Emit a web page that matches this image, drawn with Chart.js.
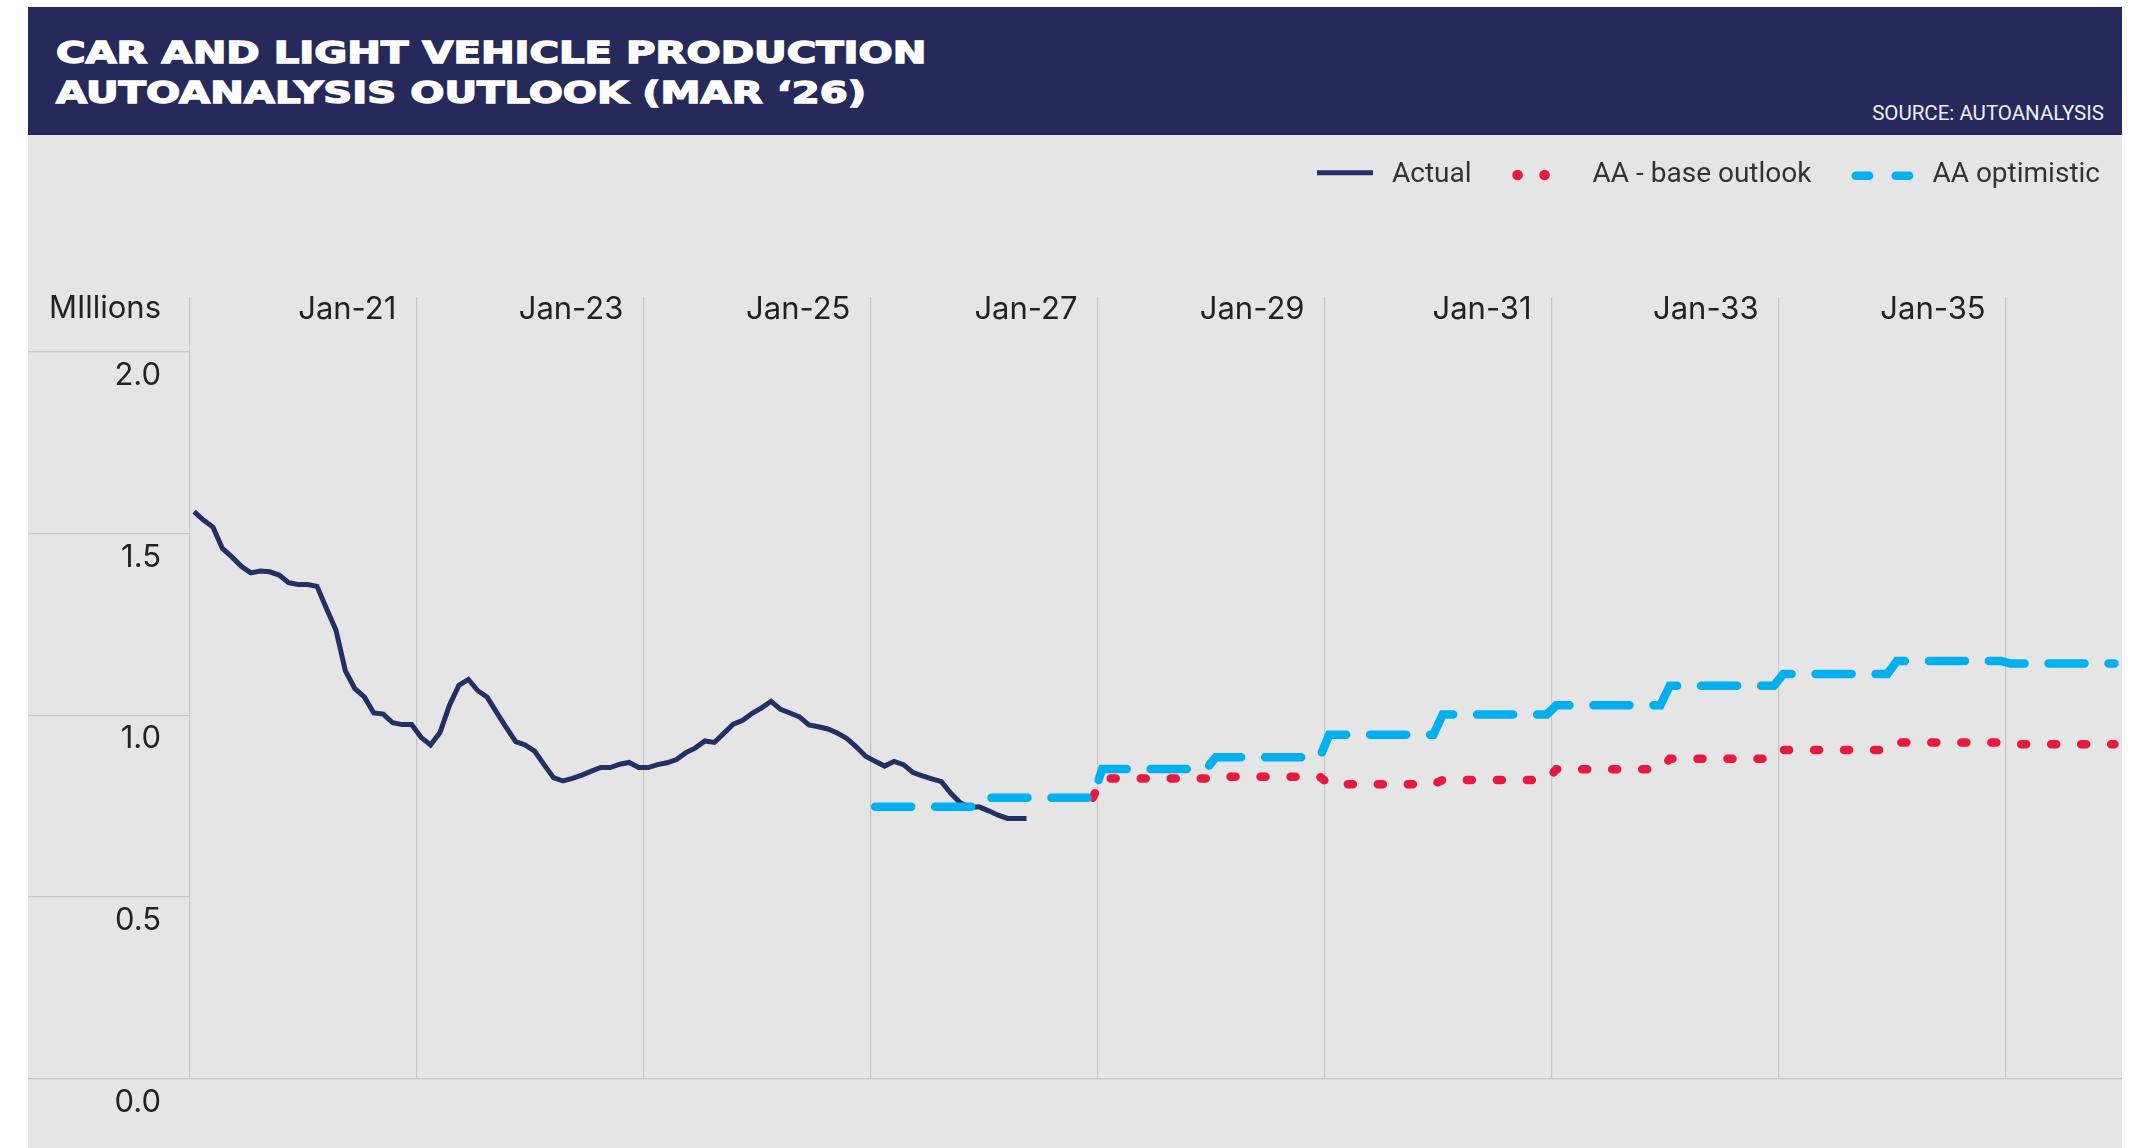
<!DOCTYPE html>
<html>
<head>
<meta charset="utf-8">
<script src="https://cdn.jsdelivr.net/npm/chart.js@4.4.1/dist/chart.umd.min.js"></script>
<style>
  html, body { margin: 0; padding: 0; background: #fff; }
  body { width: 2153px; height: 1148px; position: relative; overflow: hidden; }
  #header { position: absolute; left: 28px; top: 7px; width: 2094px; height: 128px; background: #262a5b; }
  #title {
    position: absolute; left: 28px; top: 25.5px;
    font-family: 'DejaVu Sans'; font-weight: bold; font-size: 30px; line-height: 40.3px;
    color: #fff; -webkit-text-stroke: 1.4px #fff;
    transform: scaleX(1.34); transform-origin: 0 0; white-space: nowrap;
  }
  #source { position: absolute; right: 18px; top: 94px; font: 20.5px Roboto; line-height: 24px; color: #eeeef4; }
  #wrap { position: absolute; left: 28px; top: 135px; width: 2094px; height: 1013px; background: #e5e5e5; }
</style>
</head>
<body>
<div id="header">
  <div id="title">CAR AND LIGHT VEHICLE PRODUCTION<br>AUTOANALYSIS OUTLOOK (MAR ‘26)</div>
  <div id="source">SOURCE: AUTOANALYSIS</div>
</div>
<div id="wrap"><canvas id="chart"></canvas></div>
<script>
// Monthly production, rolling 12 months, from Jan-19 (millions)
const actual = [
  1.559, 1.536, 1.517, 1.458, 1.435, 1.409, 1.391, 1.396, 1.394, 1.385, 1.364, 1.359,
  1.359, 1.354, 1.293, 1.234, 1.122, 1.073, 1.050, 1.006, 1.003, 0.979, 0.974, 0.974,
  0.939, 0.918, 0.952, 1.027, 1.082, 1.098, 1.067, 1.049, 1.007, 0.966, 0.927, 0.918,
  0.901, 0.864, 0.828, 0.819, 0.826, 0.835, 0.846, 0.856, 0.856, 0.865, 0.870, 0.856,
  0.856, 0.864, 0.869, 0.878, 0.897, 0.910, 0.929, 0.925, 0.950, 0.975, 0.986, 1.005,
  1.020, 1.038, 1.016, 1.006, 0.995, 0.973, 0.968, 0.962, 0.951, 0.936, 0.913, 0.887,
  0.873, 0.860, 0.873, 0.864, 0.842, 0.833, 0.825, 0.817, 0.785, 0.759, 0.746, 0.748,
  0.737, 0.725, 0.716, 0.716, 0.716
];

// Annual outlook levels
const forecastYears = [2025, 2026, 2027, 2028, 2029, 2030, 2031, 2032, 2033, 2034, 2035];
const optimistic    = [0.748, 0.773, 0.852, 0.884, 0.946, 1.002, 1.027, 1.081, 1.113, 1.149, 1.142];
const baseOutlook   = [null, 0.773, 0.826, 0.831, 0.810, 0.822, 0.851, 0.880, 0.904, 0.925, 0.920];

const xTickLabels = ['Jan-19', 'Jan-21', 'Jan-23', 'Jan-25', 'Jan-27', 'Jan-29', 'Jan-31', 'Jan-33', 'Jan-35'];
const yTickValues = [0, 0.5, 1, 1.5, 2];
const yTickLabels = ['0.0', '0.5', '1.0', '1.5', '2.0'];

const FIRST_YEAR = 2019;
const NAVY = '#223066';
const RED = '#e8193f';
const BLUE = '#00b0f0';
const GRID = '#c6c6c6';
const TICK_FONT = 31;

// spread annual values over their months, starting at a given month index
function monthly(values, fromMonth) {
  const pts = [];
  values.forEach((v, k) => {
    if (v == null) return;
    for (let m = 0; m < 12; m++) {
      const i = (forecastYears[k] - FIRST_YEAR) * 12 + m;
      if (i >= fromMonth) pts.push({ x: i, y: v });
    }
  });
  return pts;
}

const legendItems = [
  { text: 'Actual', kind: 'line', color: NAVY },
  { text: 'AA - base outlook', kind: 'dots', color: RED },
  { text: 'AA optimistic', kind: 'dashes', color: BLUE }
];

// legend in the top right corner plus the unit label over the y axis
const legendPlugin = {
  id: 'legendAndUnit',
  afterDraw(chart) {
    const ctx = chart.ctx;
    ctx.save();
    ctx.font = '28px Roboto';
    ctx.textBaseline = 'alphabetic';
    let x = 2072;
    for (let k = legendItems.length - 1; k >= 0; k--) {
      const item = legendItems[k];
      const tw = ctx.measureText(item.text).width;
      const tx = x - tw;
      ctx.fillStyle = '#333';
      ctx.textAlign = 'left';
      ctx.fillText(item.text, tx, 46.7);
      const sx = tx - 19 - 62;
      ctx.strokeStyle = item.color;
      ctx.fillStyle = item.color;
      if (item.kind === 'line') {
        ctx.lineWidth = 5;
        ctx.lineCap = 'butt';
        ctx.beginPath();
        ctx.moveTo(sx + 6, 37.7);
        ctx.lineTo(sx + 62, 37.7);
        ctx.stroke();
      } else if (item.kind === 'dots') {
        [sx + 6, sx + 33].forEach(cx => {
          ctx.beginPath();
          ctx.arc(cx, 40, 5.3, 0, Math.PI * 2);
          ctx.fill();
        });
      } else {
        ctx.lineWidth = 8.5;
        ctx.lineCap = 'round';
        [[sx + 4.3, sx + 17.7], [sx + 44.3, sx + 57.7]].forEach(([a, b]) => {
          ctx.beginPath();
          ctx.moveTo(a, 40.7);
          ctx.lineTo(b, 40.7);
          ctx.stroke();
        });
      }
      x = sx - 40;
    }
    ctx.font = TICK_FONT + 'px Inter';
    ctx.fillStyle = '#222';
    ctx.textAlign = 'right';
    ctx.fillText('MIllions', 133, 183.3);
    ctx.restore();
  }
};

Chart.defaults.font.family = 'Inter';

new Chart(document.getElementById('chart'), {
  type: 'line',
  data: {
    datasets: [
      {
        label: 'Actual',
        data: actual.map((v, i) => ({ x: i, y: v })),
        borderColor: NAVY,
        borderWidth: 5,
        pointRadius: 0,
        order: 2
      },
      {
        label: 'AA - base outlook',
        data: monthly(baseOutlook, 95),
        borderColor: RED,
        borderWidth: 8.5,
        borderDash: [5, 25],
        borderCapStyle: 'round',
        pointRadius: 0,
        order: 1
      },
      {
        label: 'AA optimistic',
        data: monthly(optimistic, 72),
        borderColor: BLUE,
        borderWidth: 8.5,
        borderDash: [36, 24],
        borderCapStyle: 'round',
        pointRadius: 0,
        order: 0
      }
    ]
  },
  options: {
    responsive: true,
    maintainAspectRatio: false,
    animation: false,
    layout: { padding: { top: 161.7, bottom: 69, left: 0, right: 0 } },
    plugins: { legend: { display: false }, tooltip: { enabled: false } },
    scales: {
      x: {
        type: 'linear',
        position: 'top',
        min: -0.5,
        max: 203.8,
        afterBuildTicks: s => { s.ticks = xTickLabels.map((_, k) => ({ value: k * 24 - 0.5 })); },
        afterFit: s => { s.height = 0; },
        grid: { color: GRID, lineWidth: 1.2, drawTicks: false },
        border: { display: false },
        ticks: {
          autoSkip: false,
          maxRotation: 0,
          align: 'end',
          mirror: true,       // labels sit inside the plot, just below its top edge
          labelOffset: -20,
          padding: -6,
          color: '#222',
          font: { size: TICK_FONT },
          callback: (v, k) => (k === 0 ? '' : xTickLabels[k])
        }
      },
      y: {
        min: 0,
        max: 2.15,
        afterBuildTicks: s => { s.ticks = yTickValues.map(v => ({ value: v })); },
        afterFit: s => { s.width = 161.3; },
        grid: {
          color: c => (c.tick && c.tick.value === 0 ? GRID : 'rgba(0,0,0,0)'),
          tickColor: GRID,
          tickLength: 161.3,
          lineWidth: 1.2
        },
        border: { display: false },
        ticks: {
          padding: -133,
          labelOffset: 24,
          color: '#222',
          font: { size: TICK_FONT },
          callback: (v, k) => yTickLabels[k]
        }
      }
    }
  },
  plugins: [legendPlugin]
});
</script>
</body>
</html>
